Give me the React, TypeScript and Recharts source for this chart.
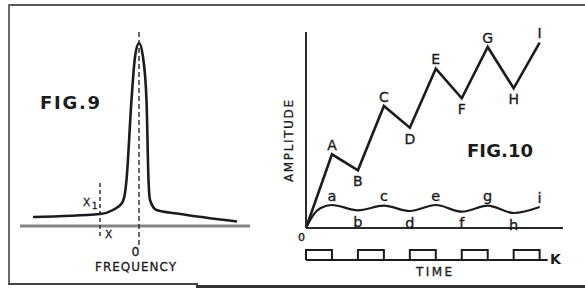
import React from 'react';
import { LineChart, Line, XAxis, YAxis, ReferenceLine } from 'recharts';

// ---------- FIG. 9 : resonance curve ----------
const freqOffsets = [-106, -39, -26, -17, -14, -12.5, -7.5, -4, 0, 4, 7.5, 9.5, 11, 17.5, 38, 98];
const freqAmplitude = [9, 12, 16, 23, 33, 46, 126, 169, 183, 169, 126, 46, 26, 16, 12.5, 4.5];
const markerX1 = -39;

// ---------- FIG. 10 : amplitude vs time ----------
const upperTimes = [0, 1, 2, 3, 4, 5, 6, 7, 8, 9];
const upperValues = [0, 73.7, 57.7, 122, 100.3, 159.3, 129.7, 181, 139.7, 185.3];
const upperNames = ['', 'A', 'B', 'C', 'D', 'E', 'F', 'G', 'H', 'I'];

const lowerTimes = [0, 0.3, 0.55, 1, 2, 3, 4, 5, 6, 7, 8, 9];
const lowerValues = [0, 13.7, 19.7, 23, 17.7, 22.3, 17, 23, 16.3, 22.3, 15, 21];
const lowerNames = ['', '', '', 'a', 'b', 'c', 'd', 'e', 'f', 'g', 'h', 'i'];

const pulseTimes = [0, 0, 1, 2, 3, 4, 5, 6, 7, 8, 9, 9.3];
const pulseLevels = [0, 1, 0, 1, 0, 1, 0, 1, 0, 1, 0, 0];
const pulseEnd = 9.3;

const fig9Data = freqOffsets.map((f, i) => ({ f, a: freqAmplitude[i] }));
const upperData = upperTimes.map((t, i) => ({ t, v: upperValues[i] }));
const lowerData = lowerTimes.map((t, i) => ({ t, v: lowerValues[i] }));
const pulseData = pulseTimes.map((t, i) => ({ t, k: pulseLevels[i] }));

const INK = '#1c1c1c';
const FONT = '"DejaVu Sans", sans-serif';

function makeLabel(names: string[], values: number[], size: number, up: number, down: number) {
  return (p: any) => {
    const i = p.index;
    const name = names[i];
    if (!name) return <g key={`e${i}`} />;
    const v = values[i];
    const prev = i > 0 ? values[i - 1] : -Infinity;
    const next = i < values.length - 1 ? values[i + 1] : -Infinity;
    const peak = v >= prev && v >= next;
    return (
      <text
        key={`l${i}`}
        x={p.x}
        y={peak ? p.y - up : p.y + down}
        textAnchor="middle"
        fontFamily={FONT}
        fontSize={size}
        fill={INK}
        stroke={INK}
        strokeWidth={0.35}
      >
        {name}
      </text>
    );
  };
}

const abs = (left: number, top: number): React.CSSProperties => ({ position: 'absolute', left, top });

export default function App() {
  return (
    <div style={{ position: 'absolute', left: 0, top: 0, width: 585, height: 291, background: '#fff', overflow: 'hidden' }}>
      {/* frame */}
      <div style={{ position: 'absolute', left: 8, top: 4, width: 577, height: 2, background: '#5a5a5a' }} />
      <div style={{ position: 'absolute', left: 8, top: 4, width: 2, height: 280, background: '#6a6a6a' }} />
      <div style={{ position: 'absolute', left: 8, top: 283, width: 190, height: 2, background: '#444' }} />
      <div style={{ position: 'absolute', left: 196, top: 285, width: 389, height: 3, background: '#333' }} />

      {/* FIG. 9 */}
      <div style={abs(0, 0)}>
        <LineChart width={585} height={291} data={fig9Data} margin={{ top: 32, bottom: 43, left: 20, right: 335 }}>
          <XAxis type="number" dataKey="f" domain={[-119, 111]} hide />
          <YAxis type="number" domain={[-22, 194]} hide />
          <ReferenceLine y={0} stroke="#858585" strokeWidth={3} />
          <ReferenceLine segment={[{ x: 0, y: 194 }, { x: 0, y: -22 }]} stroke="#333" strokeWidth={1.5} strokeDasharray="5 3" />
          <ReferenceLine segment={[{ x: markerX1, y: 43 }, { x: markerX1, y: -12 }]} stroke="#333" strokeWidth={1.5} strokeDasharray="4 3" />
          <Line dataKey="a" type="monotone" stroke={INK} strokeWidth={2.6} dot={false} isAnimationActive={false} />
        </LineChart>
      </div>

      {/* FIG. 10 main */}
      <div style={abs(0, 0)}>
        <LineChart width={585} height={291} margin={{ top: 32, bottom: 58, left: 301, right: 22 }}>
          <XAxis type="number" dataKey="t" domain={[0, 9.9]} tick={false} tickLine={false} height={5} axisLine={{ stroke: '#2a2a2a', strokeWidth: 2 }} allowDuplicatedCategory={false} />
          <YAxis type="number" domain={[0, 196]} tick={false} tickLine={false} width={5} axisLine={{ stroke: '#2a2a2a', strokeWidth: 2 }} />
          <Line data={upperData} dataKey="v" type="linear" stroke={INK} strokeWidth={2.6} dot={false} isAnimationActive={false} label={makeLabel(upperNames, upperValues, 14, 4.5, 16)} />
          <Line data={lowerData} dataKey="v" type="monotone" stroke={INK} strokeWidth={2.2} dot={false} isAnimationActive={false} label={makeLabel(lowerNames, lowerValues, 14.5, 4.5, 16.5)} />
        </LineChart>
      </div>

      {/* FIG. 10 pulse train K */}
      <div style={abs(0, 0)}>
        <LineChart width={585} height={291} data={pulseData} margin={{ top: 250, bottom: 31, left: 306, right: 22 }}>
          <XAxis type="number" dataKey="t" domain={[0, 9.9]} hide />
          <YAxis type="number" domain={[0, 1]} hide />
          <ReferenceLine segment={[{ x: 0, y: 0 }, { x: pulseEnd, y: 0 }]} stroke={INK} strokeWidth={2} />
          <Line dataKey="k" type="stepAfter" stroke={INK} strokeWidth={2} dot={false} isAnimationActive={false} />
        </LineChart>
      </div>

      {/* text overlay */}
      <svg width={585} height={291} style={{ position: 'absolute', left: 0, top: 0, pointerEvents: 'none' }}>
        <g fontFamily={FONT} fill={INK}>
          <text x={40} y={108.5} fontSize={18} fontWeight="bold" textLength={60} lengthAdjust="spacing">FIG.9</text>
          <text x={467} y={156.5} fontSize={18} fontWeight="bold" textLength={66} lengthAdjust="spacing">FIG.10</text>
          <text x={83} y={206} fontSize={10.5} stroke={INK} strokeWidth={0.3}>X</text>
          <text x={92} y={209} fontSize={8.5} stroke={INK} strokeWidth={0.3}>1</text>
          <text x={105} y={237.5} fontSize={10.5} stroke={INK} strokeWidth={0.3}>X</text>
          <text x={135.5} y={256} fontSize={12.5} textAnchor="middle" stroke={INK} strokeWidth={0.3}>0</text>
          <text x={95} y={271} fontSize={12} textLength={81} lengthAdjust="spacing" stroke={INK} strokeWidth={0.3}>FREQUENCY</text>
          <text x={301.5} y={240.5} fontSize={11} textAnchor="middle" stroke={INK} strokeWidth={0.4}>0</text>
          <text x={416} y={275.5} fontSize={12} textLength={36} lengthAdjust="spacing" stroke={INK} strokeWidth={0.3}>TIME</text>
          <text x={550} y={263.5} fontSize={14} fontWeight="bold">K</text>
          <text transform="translate(292.5,182) rotate(-90)" fontSize={12} textLength={82} lengthAdjust="spacing" stroke={INK} strokeWidth={0.3}>AMPLITUDE</text>
        </g>
      </svg>
    </div>
  );
}
